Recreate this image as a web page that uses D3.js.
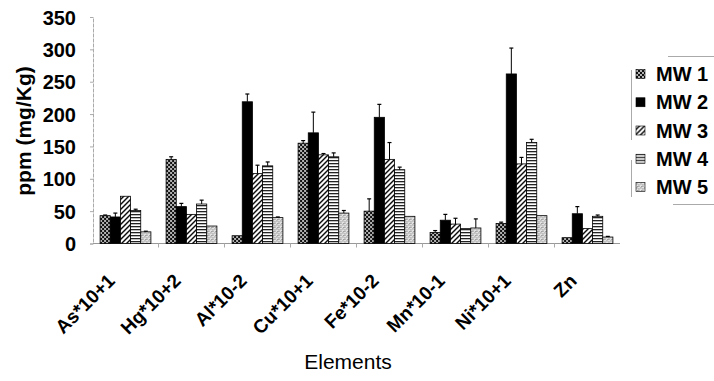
<!DOCTYPE html>
<html>
<head>
<meta charset="utf-8">
<script src="https://cdn.jsdelivr.net/npm/d3@7"></script>
<style>
  body { margin: 0; background: #fff; }
  text { font-family: "Liberation Sans", Arial, sans-serif; fill: #000; }
</style>
</head>
<body>
<svg width="714" height="381"></svg>
<script>
var width = 714;
var height = 381;

var elements = ['As*10+1', 'Hg*10+2', 'Al*10-2', 'Cu*10+1', 'Fe*10-2', 'Mn*10-1', 'Ni*10+1', 'Zn'];
var series = ['MW 1', 'MW 2', 'MW 3', 'MW 4', 'MW 5'];

// values per well, one per element
var mw1 = [43, 130, 12, 155, 50, 17, 31, 9];
var mw2 = [41, 57, 219, 171, 195, 36, 262, 46];
var mw3 = [73, 45, 108, 137, 130, 30, 123, 23];
var mw4 = [51, 61, 120, 134, 114, 23, 156, 42];
var mw5 = [18, 27, 40, 47, 42, 24, 43, 10];

// error bar sizes (upper part only)
var err1 = [1, 4, 0, 4, 19, 3, 2, 0];
var err2 = [6, 5, 12, 32, 20, 9, 40, 11];
var err3 = [0, 0, 13, 2, 26, 9, 10, 0];
var err4 = [2, 6, 6, 6, 4, 0, 5, 2];
var err5 = [1, 0, 1, 4, 0, 14, 0, 1];

var yTicks = [0, 50, 100, 150, 200, 250, 300, 350];

var values = [mw1, mw2, mw3, mw4, mw5];
var errors = [err1, err2, err3, err4, err5];

var svg = d3.select('svg');
var defs = svg.append('defs');

// fill patterns for the five wells
var p1 = defs.append('pattern').attr('id', 'pat0').attr('patternUnits', 'userSpaceOnUse')
    .attr('width', 4).attr('height', 4);
p1.append('rect').attr('width', 4).attr('height', 4).attr('fill', '#111');
p1.append('circle').attr('cx', 1).attr('cy', 1).attr('r', 0.9).attr('fill', '#fff');
p1.append('circle').attr('cx', 3).attr('cy', 3).attr('r', 0.9).attr('fill', '#fff');

var p3 = defs.append('pattern').attr('id', 'pat2').attr('patternUnits', 'userSpaceOnUse')
    .attr('width', 5).attr('height', 5);
p3.append('rect').attr('width', 5).attr('height', 5).attr('fill', '#fff');
p3.append('path').attr('d', 'M-1,6 L6,-1 M-1,1 L1,-1 M4,6 L6,4')
    .attr('stroke', '#000').attr('stroke-width', 1.4);

var p4 = defs.append('pattern').attr('id', 'pat3').attr('patternUnits', 'userSpaceOnUse')
    .attr('width', 4).attr('height', 3);
p4.append('rect').attr('width', 4).attr('height', 3).attr('fill', '#fff');
p4.append('rect').attr('y', 1).attr('width', 4).attr('height', 1.3).attr('fill', '#222');

var p5 = defs.append('pattern').attr('id', 'pat4').attr('patternUnits', 'userSpaceOnUse')
    .attr('width', 4).attr('height', 4);
p5.append('rect').attr('width', 4).attr('height', 4).attr('fill', '#e4e4e4');
[[0.5, 0.5], [2.5, 1.5], [1.5, 3], [3.5, 3.5]].forEach(function(d) {
    p5.append('rect').attr('x', d[0]).attr('y', d[1]).attr('width', 0.9).attr('height', 0.9).attr('fill', '#444');
});

var fills = ['url(#pat0)', '#000', 'url(#pat2)', 'url(#pat3)', 'url(#pat4)'];

var x = d3.scaleBand()
    .domain(elements)
    .range([92.5, 620.5])
    .paddingInner(0.23)
    .paddingOuter(0.115);

var xSub = d3.scaleBand()
    .domain(d3.range(series.length))
    .range([0, x.bandwidth()]);

var y = d3.scaleLinear()
    .domain([0, 350])
    .range([243.5, 17]);

// y axis
var yAxis = svg.append('g')
    .attr('transform', 'translate(93,0)')
    .call(d3.axisLeft(y).tickValues(yTicks).tickSize(3).tickPadding(14));
yAxis.select('.domain').attr('stroke', '#aaa').attr('stroke-dasharray', '4,1');
yAxis.selectAll('.tick line').attr('stroke', '#aaa');
yAxis.selectAll('.tick text')
    .style('font-size', '20px')
    .style('font-weight', 'bold')
    .attr('dy', '0.35em');

// baseline
svg.append('line')
    .attr('x1', 93).attr('x2', 620)
    .attr('y1', y(0)).attr('y2', y(0))
    .attr('stroke', '#999');

svg.append('g').selectAll('line')
    .data(elements.slice(1))
    .enter().append('line')
    .attr('x1', d => x(d) - x.step() * x.paddingInner() / 2)
    .attr('x2', d => x(d) - x.step() * x.paddingInner() / 2)
    .attr('y1', y(0)).attr('y2', y(0) + 4)
    .attr('stroke', '#aaa');

// bars
var groups = svg.append('g').selectAll('g')
    .data(elements)
    .enter().append('g')
    .attr('transform', d => 'translate(' + x(d) + ',0)');

groups.selectAll('rect')
    .data((d, i) => series.map((s, j) => ({ j: j, v: values[j][i], e: errors[j][i] })))
    .enter().append('rect')
    .attr('x', d => xSub(d.j))
    .attr('y', d => y(d.v))
    .attr('width', xSub.bandwidth())
    .attr('height', d => y(0) - y(d.v))
    .attr('fill', d => fills[d.j])
    .attr('stroke', '#000')
    .attr('stroke-width', 0.8);

// error bars
var eb = groups.selectAll('.err')
    .data((d, i) => series.map((s, j) => ({ j: j, v: values[j][i], e: errors[j][i] })).filter(d => d.e > 0))
    .enter().append('g')
    .classed('err', true);

eb.append('line')
    .attr('x1', d => xSub(d.j) + xSub.bandwidth() / 2)
    .attr('x2', d => xSub(d.j) + xSub.bandwidth() / 2)
    .attr('y1', d => y(d.v))
    .attr('y2', d => y(d.v + d.e))
    .attr('stroke', '#000')
    .attr('stroke-width', 1);

eb.append('line')
    .attr('x1', d => xSub(d.j) + xSub.bandwidth() / 2 - 2)
    .attr('x2', d => xSub(d.j) + xSub.bandwidth() / 2 + 2)
    .attr('y1', d => y(d.v + d.e))
    .attr('y2', d => y(d.v + d.e))
    .attr('stroke', '#000')
    .attr('stroke-width', 1.2);

// x labels, rotated, ending a little left of the group centre
svg.append('g').selectAll('text')
    .data(elements)
    .enter().append('text')
    .attr('transform', d => 'translate(' + (x(d) + x.bandwidth() / 2 - 9.5) + ',282) rotate(-45)')
    .attr('text-anchor', 'end')
    .style('font-size', '19px')
    .style('font-weight', 'bold')
    .text(d => d);

// axis titles
svg.append('text')
    .attr('transform', 'translate(31,131) rotate(-90)')
    .attr('text-anchor', 'middle')
    .style('font-size', '21px')
    .style('font-weight', 'bold')
    .text('ppm (mg/Kg)');

svg.append('text')
    .attr('x', 348)
    .attr('y', 369)
    .attr('text-anchor', 'middle')
    .style('font-size', '21px')
    .text('Elements');

// legend
var legend = svg.append('g');
var ly = d3.scalePoint().domain(series).range([74, 187]);

legend.append('path')
    .attr('d', 'M668,56.5 H714 M673,204.5 H714 M631.5,70 V140 M631.5,160 V197')
    .attr('stroke', '#aaa')
    .attr('fill', 'none');

var items = legend.selectAll('.item')
    .data(series)
    .enter().append('g')
    .classed('item', true)
    .attr('transform', d => 'translate(0,' + ly(d) + ')');

items.append('rect')
    .attr('x', 636).attr('y', -4.5)
    .attr('width', 9).attr('height', 9)
    .attr('fill', (d, i) => fills[i])
    .attr('stroke', '#000')
    .attr('stroke-width', 0.6);

items.append('text')
    .attr('x', 656)
    .attr('dy', '0.36em')
    .style('font-size', '20px')
    .style('font-weight', 'bold')
    .text(d => d);
</script>
</body>
</html>
